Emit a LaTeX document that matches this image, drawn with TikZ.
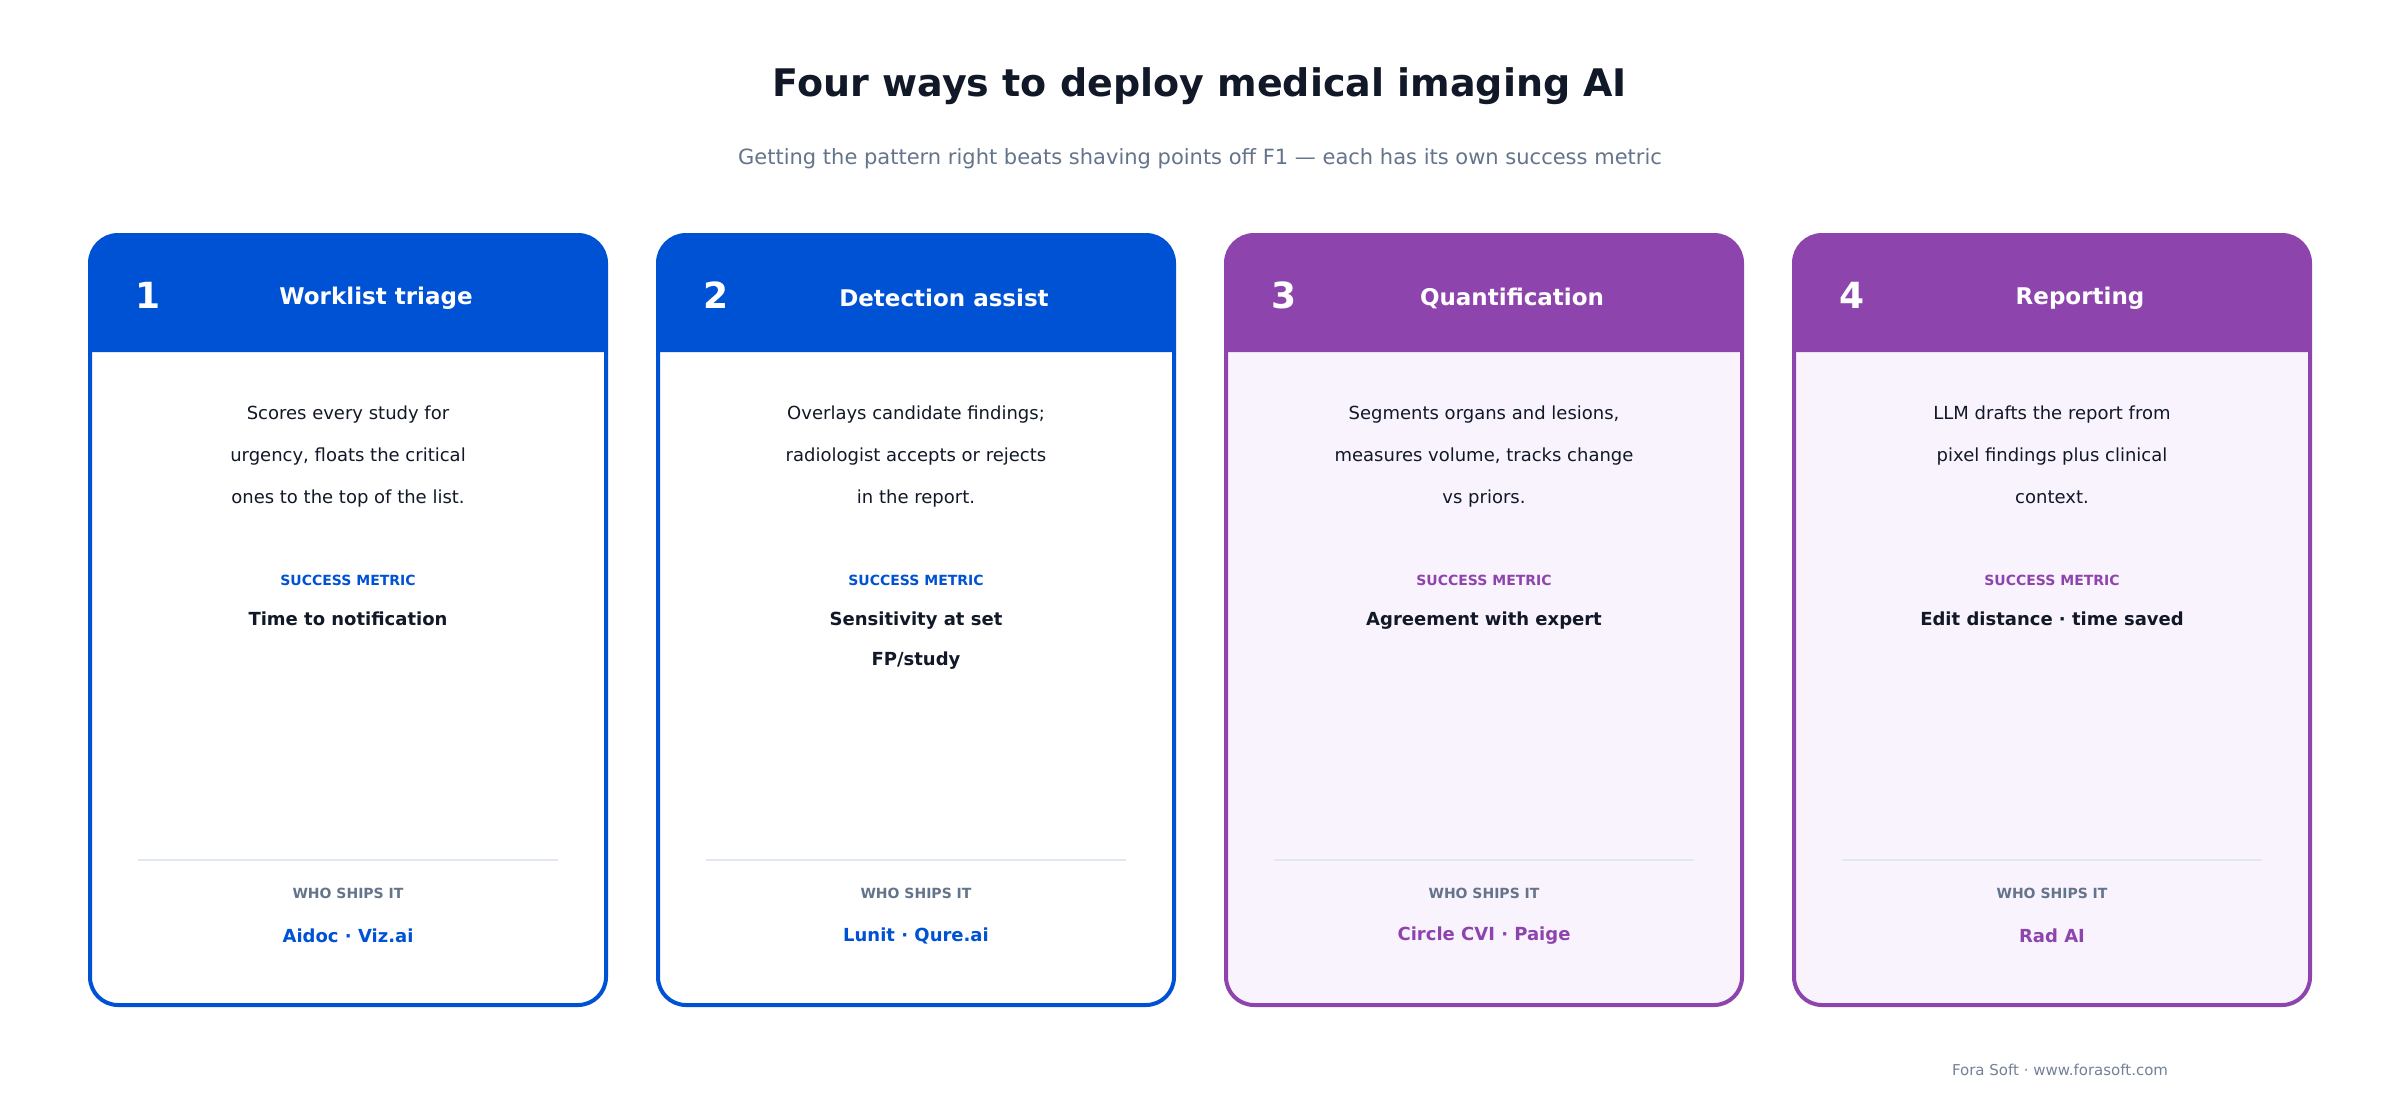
\documentclass[tikz,border=0pt]{standalone}
\usepackage{fontspec}
\setmainfont{DejaVu Sans}
\definecolor{cblue}{HTML}{0052D4}
\definecolor{cpurp}{HTML}{8E44AD}
\definecolor{lpurp}{HTML}{F9F3FD}
\definecolor{ink}{HTML}{111827}
\definecolor{slate}{HTML}{64748B}
\definecolor{rule}{HTML}{E2E8F0}
\tikzset{
  body/.style = {font=\fontsize{18}{42}\selectfont, text=ink, align=center},
  label/.style = {font=\fontsize{14}{16}\selectfont\bfseries},
  metric/.style = {font=\fontsize{18}{40}\selectfont\bfseries, text=ink, align=center},
}
% #1 left x, #2 number, #3 title, #4 colour, #5 fill, #6 body, #7 metric, #8 vendors, #9 name
\newcommand{\card}[9]{%
  \fill[#5, rounded corners=28] (#1,235) rectangle ++(516,770);
  \fill[#4] (#1,352) [rounded corners=28] -- (#1,235) -- (#1+516,235) [sharp corners] -- (#1+516,352) -- cycle;
  \draw[#4, line width=4, rounded corners=28] (#1,235) rectangle ++(516,770);
  \node[text=white, font=\fontsize{36}{40}\selectfont\bfseries] (#9num) at (#1+58,295) {#2};
  \node[text=white, font=\fontsize{23}{26}\selectfont\bfseries] (#9title) at (#1+286,298) {#3};
  \node[body, anchor=north] (#9body) at (#1+258,402) {#6};
  \node[label, text=#4] (#9lab) at (#1+258,580) {SUCCESS METRIC};
  \node[metric, anchor=north] (#9met) at (#1+258,608) {#7};
  \draw[rule, line width=1.5] (#1+48,860) -- (#1+468,860);
  \node[label, text=slate] (#9who) at (#1+258,893) {WHO SHIPS IT};
  \node[font=\fontsize{18}{20}\selectfont\bfseries, text=#4] (#9ven) at (#1+258,936) {#8};
}
\begin{document}
\begin{tikzpicture}[x=1pt, y=-1pt]
\useasboundingbox[fill=white] (0,0) rectangle (2400,1112);
\node[font=\fontsize{38}{40}\selectfont\bfseries, text=ink] (title) at (1200,86) {Four ways to deploy medical imaging AI};
\node[font=\fontsize{21}{24}\selectfont, text=slate] (sub) at (1200,159) {Getting the pattern right beats shaving points off F1 — each has its own success metric};
\card{90}{1}{Worklist triage}{cblue}{white}{Scores every study for\\urgency, floats the critical\\ones to the top of the list.}{Time to notification}{Aidoc · Viz.ai}{a}
\card{658}{2}{Detection assist}{cblue}{white}{Overlays candidate findings;\\radiologist accepts or rejects\\in the report.}{Sensitivity at set\\FP/study}{Lunit · Qure.ai}{b}
\card{1226}{3}{Quantification}{cpurp}{lpurp}{Segments organs and lesions,\\measures volume, tracks change\\vs priors.}{Agreement with expert}{Circle CVI · Paige}{c}
\card{1794}{4}{Reporting}{cpurp}{lpurp}{LLM drafts the report from\\pixel findings plus clinical\\context.}{Edit distance · time saved}{Rad AI}{d}
\node[font=\fontsize{15}{18}\selectfont, text=slate!90] (foot) at (2060,1070) {Fora Soft · www.forasoft.com};
\end{tikzpicture}
\end{document}
